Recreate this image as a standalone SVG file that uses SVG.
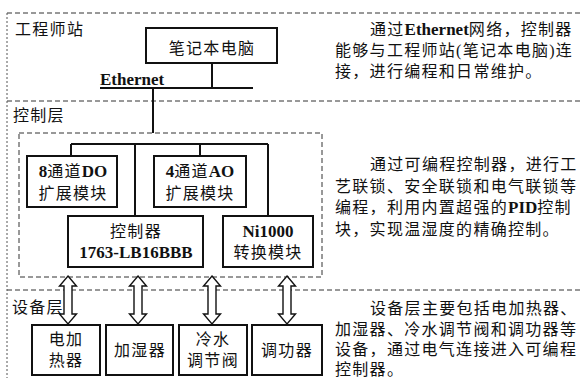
<svg xmlns="http://www.w3.org/2000/svg" width="582" height="378" viewBox="0 0 582 378">
<style>
.bg{fill:#fff}
.dash{fill:none;stroke:#333;stroke-width:1;stroke-dasharray:5 3}
.dot{fill:none;stroke:#555;stroke-width:1;stroke-dasharray:2 2}
.box{fill:#fff;stroke:#111;stroke-width:2}
.ln{fill:none;stroke:#111;stroke-width:2}
.arr{fill:#fff;stroke:#111;stroke-width:1.4;stroke-linejoin:miter}
text{font-family:"Liberation Serif","Noto Sans CJK SC",serif;font-size:16px;letter-spacing:1.3px;fill:#111}
.c{text-anchor:middle}
.b{font-weight:bold;font-size:17px;letter-spacing:0}
</style>
<defs>
<path id="darr" d="M0,0 L8.5,10 L4,10 L4,38 L8.5,38 L0,48 L-8.5,38 L-4,38 L-4,10 L-8.5,10 Z"/>
</defs>
<rect class="bg" x="0" y="0" width="582" height="378"/>
<g id="frame">
<line class="dash" x1="7" y1="13" x2="582" y2="13"/>
<line class="dash" x1="7" y1="101" x2="582" y2="101"/>
<line class="dash" x1="7" y1="290" x2="582" y2="290"/>
<line class="dot" x1="7" y1="13" x2="7" y2="378"/>
<rect class="dash" x="19" y="133" width="303" height="144"/>
<text x="15" y="35">工程师站</text>
<text x="13" y="121">控制层</text>
<text x="12" y="313">设备层</text>
</g>
<g id="connectors">
<line class="ln" x1="212" y1="63" x2="212" y2="88"/>
<line class="ln" x1="100" y1="88" x2="253" y2="88"/>
<line class="ln" x1="153" y1="88" x2="153" y2="133"/>
<line class="ln" x1="71" y1="144" x2="268" y2="144"/>
<line class="ln" x1="71" y1="144" x2="71" y2="156"/>
<line class="ln" x1="135" y1="144" x2="135" y2="216"/>
<line class="ln" x1="200" y1="144" x2="200" y2="156"/>
<line class="ln" x1="268" y1="144" x2="268" y2="216"/>
<use href="#darr" class="arr" transform="translate(68,276)"/>
<use href="#darr" class="arr" transform="translate(138,276)"/>
<use href="#darr" class="arr" transform="translate(212,276)"/>
<use href="#darr" class="arr" transform="translate(287,276)"/>
<text x="100" y="85"><tspan class="b">Ethernet</tspan></text>
</g>
<g id="laptop">
<rect class="box" x="146" y="28" width="131" height="35"/>
<text class="c" x="212" y="54">笔记本电脑</text>
</g>
<g id="do8">
<rect class="box" x="27" y="156" width="90" height="51"/>
<text class="c" x="73" y="177"><tspan class="b">8</tspan>通道<tspan class="b">DO</tspan></text>
<text class="c" x="73" y="199">扩展模块</text>
</g>
<g id="ao4">
<rect class="box" x="154" y="156" width="92" height="51"/>
<text class="c" x="200" y="177"><tspan class="b">4</tspan>通道<tspan class="b">AO</tspan></text>
<text class="c" x="200" y="199">扩展模块</text>
</g>
<g id="controller">
<rect class="box" x="68" y="216" width="135" height="51"/>
<text class="c" x="136" y="237">控制器</text>
<text class="c" x="136" y="258"><tspan class="b">1763-LB16BBB</tspan></text>
</g>
<g id="ni1000">
<rect class="box" x="223" y="216" width="90" height="51"/>
<text class="c" x="268" y="237"><tspan class="b">Ni1000</tspan></text>
<text class="c" x="268" y="258">转换模块</text>
</g>
<g id="heater">
<rect class="box" x="32" y="325" width="68" height="50"/>
<text class="c" x="66" y="345">电加</text>
<text class="c" x="66" y="366">热器</text>
</g>
<g id="humidifier">
<rect class="box" x="106" y="325" width="67" height="50"/>
<text class="c" x="140" y="356">加湿器</text>
</g>
<g id="valve">
<rect class="box" x="179" y="325" width="68" height="50"/>
<text class="c" x="213" y="345">冷水</text>
<text class="c" x="213" y="366">调节阀</text>
</g>
<g id="power">
<rect class="box" x="252" y="325" width="70" height="50"/>
<text class="c" x="287" y="356">调功器</text>
</g>
<g id="notes">
<text x="370" y="35">通过<tspan class="b">Ethernet</tspan>网络，控制器</text>
<text x="335" y="56">能够与工程师站(笔记本电脑)连</text>
<text x="335" y="77">接，进行编程和日常维护。</text>
<text x="370" y="170">通过可编程控制器，进行工</text>
<text x="335" y="192">艺联锁、安全联锁和电气联锁等</text>
<text x="335" y="213">编程，利用内置超强的<tspan class="b">PID</tspan>控制</text>
<text x="335" y="235">块，实现温湿度的精确控制。</text>
<text x="370" y="314">设备层主要包括电加热器、</text>
<text x="335" y="335">加湿器、冷水调节阀和调功器等</text>
<text x="335" y="355">设备，通过电气连接进入可编程</text>
<text x="335" y="375">控制器。</text>
</g>
</svg>
